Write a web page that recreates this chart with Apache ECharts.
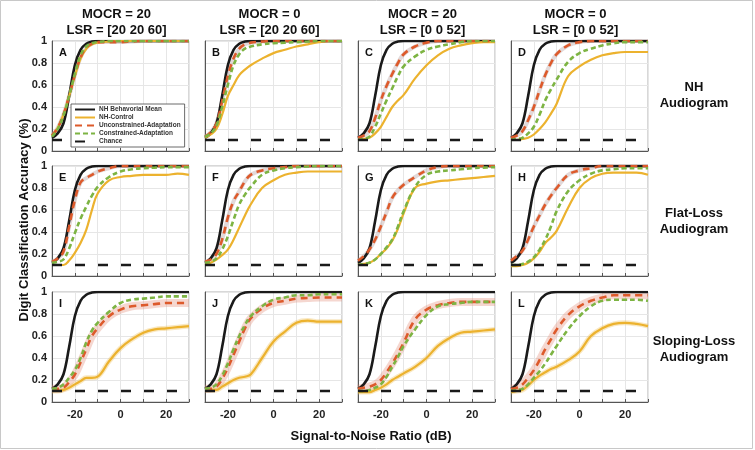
<!DOCTYPE html>
<html>
<head>
<meta charset="utf-8">
<title>Digit classification accuracy</title>
<script src="https://cdn.jsdelivr.net/npm/echarts@6.0.0/dist/echarts.min.js"></script>
<style>
  html, body { margin: 0; padding: 0; background: #fff; }
  #chart { width: 755px; height: 450px; }
</style>
</head>
<body>
<div id="chart"></div>
<script>
// SNR grid (dB) shared by every curve
const snr = [-30, -27.5, -25, -22.5, -20, -17.5, -15, -12.5, -10, -5, 0, 5, 10, 15, 20, 25, 30];

// NH behavioral mean, same in all panels
const behavioral = [0.12, 0.16, 0.25, 0.5, 0.78, 0.92, 0.975, 0.995, 1, 1, 1, 1, 1, 1, 1, 1, 1];

// chance level
const chanceSnr = [-30, 25];
const chanceLevel = [0.1, 0.1];

// panel order A..L (rows: NH, Flat-Loss, Sloping-Loss)
const panelLetters = ["A", "B", "C", "D", "E", "F", "G", "H", "I", "J", "K", "L"];
const mocrLabels = ["MOCR = 20", "MOCR = 0", "MOCR = 20", "MOCR = 0"];
const lsrLabels = ["LSR = [20 20 60]", "LSR = [20 20 60]", "LSR = [0 0 52]", "LSR = [0 0 52]"];
const rowLabels = ["NH\nAudiogram", "Flat-Loss\nAudiogram", "Sloping-Loss\nAudiogram"];
const xTickLabels = [-20, 0, 20];

// NH-Control
const nhControl = [
  [0.14, 0.21, 0.33, 0.5, 0.68, 0.84, 0.93, 0.97, 0.985, 0.995, 1, 1, 1, 1, 1, 1, 1],
  [0.12, 0.15, 0.2, 0.33, 0.5, 0.6, 0.69, 0.74, 0.78, 0.84, 0.89, 0.92, 0.95, 0.97, 0.99, 1, 1],
  [0.1, 0.11, 0.12, 0.16, 0.22, 0.31, 0.4, 0.46, 0.51, 0.66, 0.78, 0.87, 0.93, 0.96, 0.98, 0.99, 0.99],
  [0.1, 0.1, 0.11, 0.12, 0.15, 0.2, 0.26, 0.34, 0.43, 0.68, 0.77, 0.83, 0.87, 0.89, 0.9, 0.9, 0.9],
  [0.1, 0.1, 0.1, 0.14, 0.21, 0.3, 0.42, 0.6, 0.75, 0.87, 0.9, 0.91, 0.92, 0.92, 0.92, 0.93, 0.92],
  [0.1, 0.12, 0.15, 0.19, 0.24, 0.33, 0.44, 0.55, 0.65, 0.8, 0.87, 0.92, 0.94, 0.95, 0.95, 0.95, 0.95],
  [0.1, 0.11, 0.12, 0.15, 0.2, 0.25, 0.32, 0.43, 0.57, 0.8, 0.84, 0.86, 0.87, 0.88, 0.89, 0.9, 0.91],
  [0.09, 0.09, 0.1, 0.12, 0.16, 0.22, 0.3, 0.35, 0.41, 0.62, 0.8, 0.89, 0.93, 0.94, 0.94, 0.94, 0.92],
  [0.1, 0.1, 0.11, 0.13, 0.16, 0.19, 0.22, 0.22, 0.23, 0.37, 0.49, 0.57, 0.63, 0.66, 0.67, 0.68, 0.69],
  [0.11, 0.11, 0.11, 0.14, 0.17, 0.2, 0.22, 0.23, 0.25, 0.4, 0.55, 0.64, 0.72, 0.74, 0.73, 0.73, 0.73],
  [0.09, 0.09, 0.09, 0.11, 0.13, 0.16, 0.2, 0.23, 0.26, 0.32, 0.4, 0.51, 0.58, 0.63, 0.64, 0.65, 0.66],
  [0.09, 0.1, 0.11, 0.15, 0.2, 0.24, 0.27, 0.3, 0.32, 0.38, 0.46, 0.6, 0.67, 0.71, 0.72, 0.71, 0.69]
];

// Unconstrained-Adaptation
const unconstrained = [
  [0.14, 0.21, 0.33, 0.5, 0.69, 0.85, 0.94, 0.975, 0.99, 0.99, 0.99, 0.995, 1, 1, 1, 1, 1],
  [0.13, 0.17, 0.25, 0.45, 0.68, 0.84, 0.93, 0.97, 0.985, 0.995, 1, 1, 1, 1, 1, 1, 1],
  [0.12, 0.14, 0.18, 0.3, 0.46, 0.59, 0.7, 0.8, 0.88, 0.95, 0.985, 1, 1, 1, 1, 1, 1],
  [0.12, 0.14, 0.18, 0.28, 0.4, 0.55, 0.69, 0.8, 0.88, 0.96, 0.99, 1, 1, 1, 1, 1, 1],
  [0.13, 0.16, 0.22, 0.45, 0.69, 0.85, 0.89, 0.92, 0.95, 0.98, 1, 1, 1, 1, 1, 1, 1],
  [0.13, 0.15, 0.2, 0.33, 0.53, 0.68, 0.77, 0.86, 0.92, 0.96, 0.98, 0.99, 1, 1, 1, 1, 1],
  [0.14, 0.18, 0.24, 0.33, 0.45, 0.58, 0.71, 0.78, 0.83, 0.9, 0.96, 0.99, 1, 1, 1, 1, 1],
  [0.14, 0.18, 0.23, 0.33, 0.45, 0.55, 0.65, 0.73, 0.8, 0.92, 0.96, 0.98, 1, 1, 1, 1, 1],
  [0.12, 0.12, 0.13, 0.18, 0.25, 0.36, 0.48, 0.6, 0.67, 0.78, 0.84, 0.87, 0.88, 0.89, 0.9, 0.9, 0.9],
  [0.12, 0.12, 0.14, 0.21, 0.31, 0.43, 0.55, 0.67, 0.76, 0.85, 0.9, 0.92, 0.94, 0.945, 0.95, 0.95, 0.95],
  [0.12, 0.13, 0.14, 0.16, 0.2, 0.27, 0.35, 0.44, 0.54, 0.75, 0.84, 0.88, 0.9, 0.91, 0.91, 0.91, 0.91],
  [0.12, 0.13, 0.16, 0.22, 0.29, 0.38, 0.48, 0.57, 0.66, 0.79, 0.87, 0.92, 0.95, 0.97, 0.97, 0.97, 0.97]
];

// Constrained-Adaptation
const constrained = [
  [0.13, 0.2, 0.32, 0.5, 0.7, 0.87, 0.95, 0.98, 0.99, 1, 1, 1, 1, 1, 1, 1, 1],
  [0.13, 0.16, 0.23, 0.4, 0.6, 0.78, 0.88, 0.93, 0.95, 0.97, 0.98, 0.985, 0.99, 0.995, 1, 1, 1],
  [0.1, 0.11, 0.13, 0.22, 0.34, 0.46, 0.57, 0.68, 0.77, 0.86, 0.92, 0.95, 0.97, 0.99, 1, 1, 1],
  [0.1, 0.11, 0.12, 0.16, 0.22, 0.33, 0.46, 0.56, 0.65, 0.81, 0.89, 0.93, 0.96, 0.98, 0.99, 0.99, 0.99],
  [0.12, 0.13, 0.15, 0.25, 0.39, 0.52, 0.63, 0.73, 0.81, 0.9, 0.95, 0.97, 0.98, 0.985, 0.99, 0.99, 0.99],
  [0.12, 0.13, 0.16, 0.24, 0.36, 0.51, 0.65, 0.74, 0.81, 0.92, 0.96, 0.98, 0.99, 0.995, 1, 1, 1],
  [0.1, 0.11, 0.12, 0.15, 0.2, 0.26, 0.33, 0.45, 0.59, 0.81, 0.92, 0.95, 0.96, 0.97, 0.98, 0.985, 0.99],
  [0.1, 0.1, 0.11, 0.13, 0.17, 0.24, 0.33, 0.45, 0.59, 0.77, 0.87, 0.93, 0.96, 0.97, 0.98, 0.98, 0.98],
  [0.12, 0.13, 0.16, 0.22, 0.29, 0.4, 0.54, 0.65, 0.72, 0.82, 0.9, 0.93, 0.94, 0.95, 0.96, 0.96, 0.96],
  [0.12, 0.13, 0.16, 0.24, 0.35, 0.48, 0.6, 0.7, 0.78, 0.87, 0.93, 0.95, 0.97, 0.97, 0.98, 0.98, 0.98],
  [0.1, 0.1, 0.11, 0.13, 0.16, 0.23, 0.32, 0.41, 0.51, 0.66, 0.79, 0.87, 0.89, 0.9, 0.91, 0.91, 0.91],
  [0.1, 0.11, 0.12, 0.16, 0.22, 0.28, 0.35, 0.43, 0.51, 0.66, 0.78, 0.87, 0.92, 0.93, 0.93, 0.93, 0.92]
];

const FONT = "Liberation Sans, Arial, sans-serif";
const colLeft = [52, 205, 358, 511];
const rowTop = [41, 166, 292];
const W = 137, H = 110;

const chart = echarts.init(document.getElementById("chart"), null, { renderer: "canvas" });

function pts(vals) {
  return snr.map((x, j) => [x, vals[j]]);
}

const grids = [], xAxes = [], yAxes = [], series = [], graphics = [];

for (let i = 0; i < 12; i++) {
  const row = Math.floor(i / 4), col = i % 4;
  grids.push({
    left: colLeft[col], top: rowTop[row], width: W, height: H,
    show: true, borderColor: "#b0b0b0", borderWidth: 1, backgroundColor: "#fff"
  });
  xAxes.push({
    gridIndex: i, type: "value", min: -30, max: 30, interval: 10,
    axisLine: { show: true, onZero: false, lineStyle: { color: "#555", width: 1 } },
    axisTick: { show: true, inside: true, length: 3, lineStyle: { color: "#555" } },
    axisLabel: {
      show: row === 2, margin: 7,
      color: "#222", fontFamily: FONT, fontWeight: "bold", fontSize: 11,
      formatter: v => (xTickLabels.indexOf(v) >= 0 ? String(v) : "")
    },
    splitLine: { show: true, lineStyle: { color: "#e6e6e6", width: 1 } }
  });
  yAxes.push({
    gridIndex: i, type: "value", min: 0, max: 1, interval: 0.2,
    axisLine: { show: true, onZero: false, lineStyle: { color: "#555", width: 1 } },
    axisTick: { show: false },
    axisLabel: {
      show: col === 0, margin: 5,
      color: "#222", fontFamily: FONT, fontWeight: "bold", fontSize: 11,
      formatter: v => String(Math.round(v * 10) / 10)
    },
    splitLine: { show: true, lineStyle: { color: "#e6e6e6", width: 1 } }
  });

  const base = { type: "line", xAxisIndex: i, yAxisIndex: i, symbol: "none", silent: true,
    smooth: 0.4, animation: false };

  // confidence-band look: pale wide stroke under the model curves
  series.push(Object.assign({}, base, {
    name: "band-u" + i, data: pts(unconstrained[i]), z: 1,
    lineStyle: { color: row === 2 ? "rgba(226,140,120,0.35)" : "rgba(190,170,170,0.45)", width: row === 2 ? 8 : 4 }
  }));
  if (row === 2) {
    series.push(Object.assign({}, base, {
      name: "band-c" + i, data: pts(nhControl[i]), z: 1,
      lineStyle: { color: "rgba(237,190,80,0.35)", width: 5 }
    }));
  }
  series.push(Object.assign({}, base, {
    name: "NH Behavorial Mean", data: pts(behavioral), z: 2, color: "#1a1a1a",
    lineStyle: { color: "#1a1a1a", width: 2.6 }
  }));
  series.push(Object.assign({}, base, {
    name: "NH-Control", data: pts(nhControl[i]), z: 3, color: "#ECB22E",
    lineStyle: { color: "#ECB22E", width: 2.2 }
  }));
  series.push(Object.assign({}, base, {
    name: "Unconstrained-Adaptation", data: pts(unconstrained[i]), z: 4, color: "#DD5A2B",
    lineStyle: { color: "#DD5A2B", width: 2.6, type: [7, 5] }
  }));
  series.push(Object.assign({}, base, {
    name: "Constrained-Adaptation", data: pts(constrained[i]), z: 5, color: "#7DB443",
    lineStyle: { color: "#7DB443", width: 2.6, type: [5, 3] }
  }));
  series.push(Object.assign({}, base, {
    name: "Chance", data: chanceSnr.map((x, j) => [x, chanceLevel[j]]), smooth: false, z: 6, color: "#1a1a1a",
    lineStyle: { color: "#1a1a1a", width: 2.6, type: [10, 13] }
  }));

  // panel letter
  graphics.push({
    type: "text", left: colLeft[col] + 7, top: rowTop[row] + 6, z: 100,
    style: { text: panelLetters[i], font: "bold 11px " + FONT, fill: "#111" }
  });
}

// column titles
for (let c = 0; c < 4; c++) {
  const cx = colLeft[c] + W / 2 - 4;
  graphics.push({
    type: "text", x: cx, y: 14, z: 100,
    style: { text: mocrLabels[c], font: "bold 13px " + FONT, fill: "#111", align: "center", verticalAlign: "middle" }
  });
  graphics.push({
    type: "text", x: cx, y: 30, z: 100,
    style: { text: lsrLabels[c], font: "bold 13px " + FONT, fill: "#111", align: "center", verticalAlign: "middle" }
  });
}

// row labels
const rowLabelY = [95, 221, 349];
for (let r = 0; r < 3; r++) {
  graphics.push({
    type: "text", x: 694, y: rowLabelY[r], z: 100,
    style: { text: rowLabels[r], font: "bold 13px " + FONT, fill: "#111", align: "center",
      verticalAlign: "middle", lineHeight: 16 }
  });
}

// axis titles
graphics.push({
  type: "text", x: 24, y: 220, rotation: Math.PI / 2, z: 100,
  style: { text: "Digit Classification Accuracy (%)", font: "bold 13px " + FONT, fill: "#111",
    align: "center", verticalAlign: "middle" }
});
graphics.push({
  type: "text", x: 371, y: 436, z: 100,
  style: { text: "Signal-to-Noise Ratio (dB)", font: "bold 13px " + FONT, fill: "#111",
    align: "center", verticalAlign: "middle" }
});

// outer frame
graphics.push({
  type: "rect", shape: { x: 0.5, y: 0.5, width: 752, height: 448 }, z: 100, silent: true,
  style: { fill: "none", stroke: "#c8c8c8", lineWidth: 1 }
});

chart.setOption({
  animation: false,
  backgroundColor: "#fff",
  grid: grids,
  xAxis: xAxes,
  yAxis: yAxes,
  legend: {
    data: ["NH Behavorial Mean", "NH-Control", "Unconstrained-Adaptation", "Constrained-Adaptation", "Chance"],
    orient: "vertical",
    left: 71, top: 104,
    padding: [2, 4, 2, 3],
    itemWidth: 20, itemHeight: 7, itemGap: 1,
    selectedMode: false,
    backgroundColor: "#fff",
    borderColor: "#444", borderWidth: 0.8,
    itemStyle: { opacity: 0 },
    textStyle: { fontFamily: FONT, fontSize: 6.5, fontWeight: "bold", color: "#333", padding: [0, 0, 0, -1] },
    z: 50
  },
  series: series,
  graphic: graphics
});
</script>
</body>
</html>
